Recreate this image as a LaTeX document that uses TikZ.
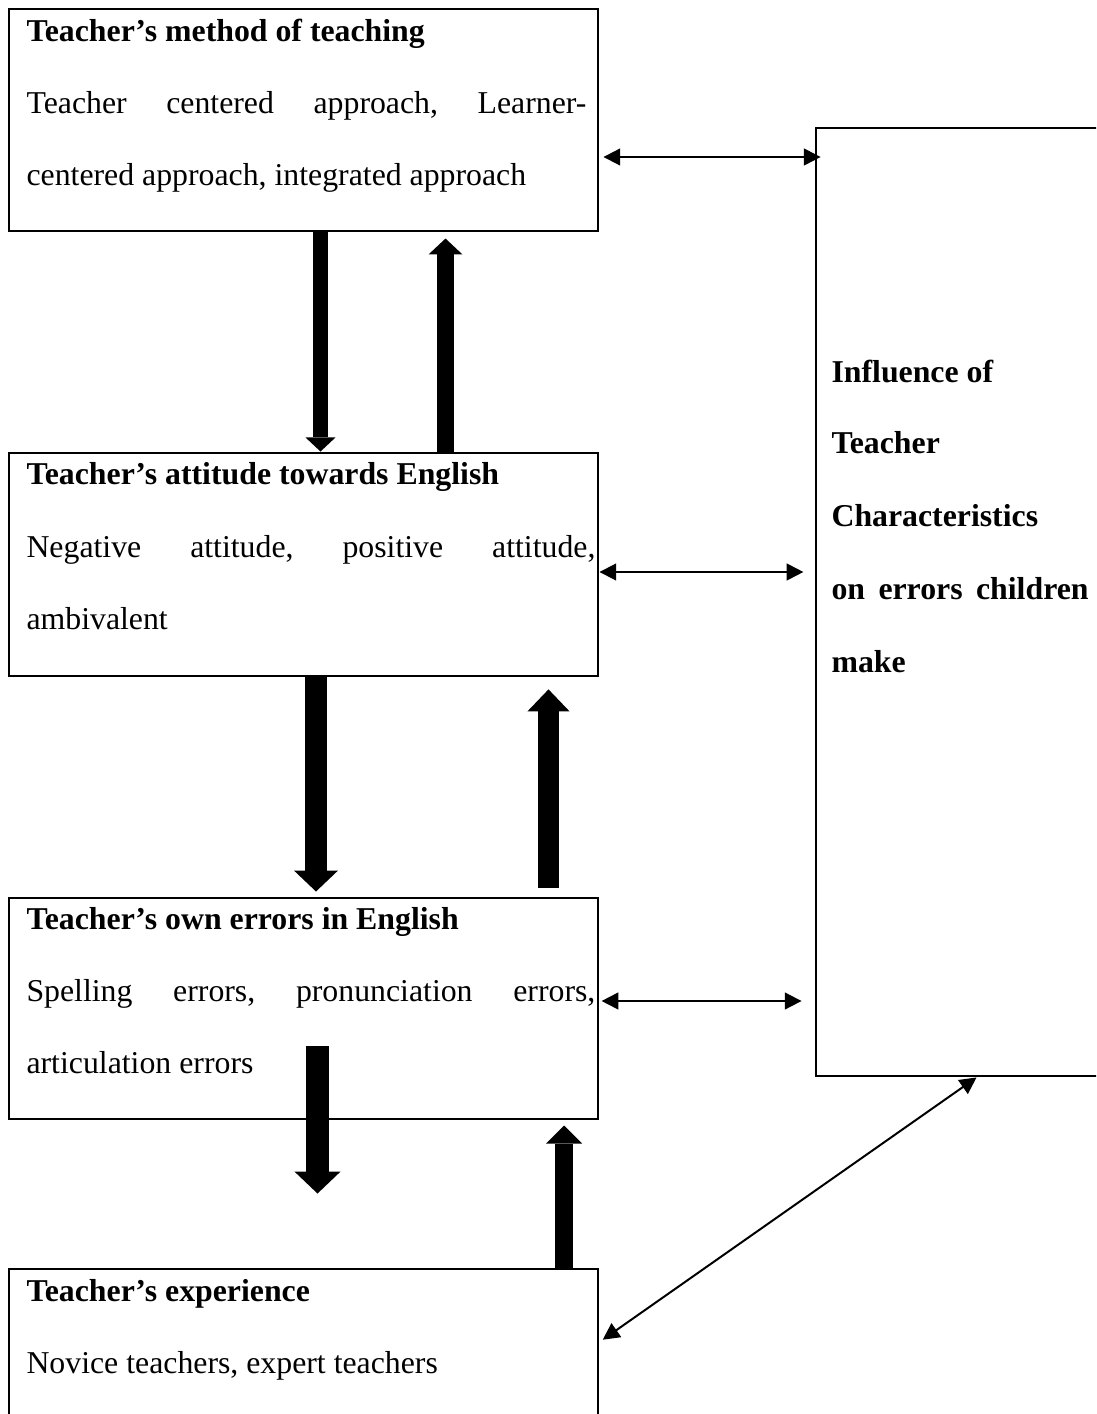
\documentclass[tikz,border=0pt]{standalone}
\usepackage{fontspec}
\setmainfont{Liberation Serif}
\usetikzlibrary{arrows.meta,calc,fit}
\begin{document}
\begin{tikzpicture}[x=0.3774pt,y=-0.3774pt,
  box/.style={draw,line width=1.1pt,inner sep=0pt,fit={#1}},
  txt/.style={anchor=base west,inner sep=0pt,font=\fontsize{12pt}{14pt}\selectfont},
  ttl/.style={txt,font=\fontsize{12pt}{14pt}\selectfont\bfseries},
  dbl/.style={line width=0.75pt,{Triangle[length=6.3pt,width=6.3pt]}-{Triangle[length=6.3pt,width=6.3pt]}},
  blk/.style n args={3}{line width=#1,-{Triangle[width=#2,length=#3,line width=0pt]}}]
\useasboundingbox (0,0) rectangle (1096,1414);
\begin{scope}
\clip (0,0) rectangle (1096,1414);
% boxes
\node[box={(9,9) (598,231)}] (box1) {};
\node[box={(9,453) (598,676)}] (box2) {};
\node[box={(9,898) (598,1119)}] (box3) {};
\node[box={(9,1269) (598,1440)}] (box4) {};
\node[box={(816,128) (1120,1076)}] (big) {};
% texts
\node[ttl] (t1) at (26,42) {Teacher’s method of teaching};
\node[txt] (l1a) at (26,114) {\hbox to 211.3pt{Teacher\hfill centered\hfill approach,\hfill Learner-}};
\node[txt] (l1b) at (26,186) {centered approach, integrated approach};
\node[ttl] (t2) at (26,485) {Teacher’s attitude towards English};
\node[txt] (l2a) at (26,557) {\hbox to 214.7pt{Negative\hfill attitude,\hfill positive\hfill attitude,}};
\node[txt] (l2b) at (26,629) {ambivalent};
\node[ttl] (t3) at (26,929) {Teacher’s own errors in English};
\node[txt] (l3a) at (26,1001) {\hbox to 214.7pt{Spelling\hfill errors,\hfill pronunciation\hfill errors,}};
\node[txt] (l3b) at (26,1073) {articulation errors};
\node[ttl] (t4) at (26,1301) {Teacher’s experience};
\node[txt] (l4a) at (26,1373) {Novice teachers, expert teachers};
\node[ttl] (b1) at (831,383) {Influence of};
\node[ttl] (b2) at (831,454) {Teacher};
\node[ttl] (b3) at (831,527) {Characteristics};
\node[ttl] (b4) at (831,599) {\hbox to 97pt{on\hfill errors\hfill children}};
\node[ttl] (b5) at (831,672) {make};
% thin double arrows
\draw[dbl,shorten <=1.5pt,shorten >=-2.3pt] (box1.east |- 0,157) -- (big.west |- 0,157);
\draw[dbl,shorten >=4.2pt] (box2.east |- 0,572) -- (big.west |- 0,572);
\draw[dbl,shorten <=0.8pt,shorten >=4.9pt] (box3.east |- 0,1001) -- (big.west |- 0,1001);
\draw[dbl,shorten <=1.5pt] (box4.east |- 0,1342) -- ($(big.south west)+(162,0)$);
% block arrows
\draw[blk={5.7pt}{11.3pt}{5.3pt}] (box1.south -| 320.5,0) -- (box2.north -| 320.5,0);
\draw[blk={6.4pt}{12.8pt}{6pt},shorten >=2.3pt] (box2.north -| 445.5,0) -- (box1.south -| 445.5,0);
\draw[blk={8.3pt}{16.6pt}{7.9pt},shorten >=1.9pt] (box2.south -| 316,0) -- (box3.north -| 316,0);
\draw[blk={7.9pt}{15.9pt}{8.3pt},shorten <=3.4pt,shorten >=4.5pt] (box3.north -| 548.5,0) -- (box2.south -| 548.5,0);
\draw[blk={8.7pt}{17.4pt}{8.3pt}] ($(box3.south -| 317.5,0)+(0,-74)$) -- ($(box4.north -| 317.5,0)+(0,-74)$);
\draw[blk={6.8pt}{13.6pt}{6.8pt},shorten >=1.9pt] (box4.north -| 564,0) -- (box3.south -| 564,0);
\end{scope}
\end{tikzpicture}
\end{document}
